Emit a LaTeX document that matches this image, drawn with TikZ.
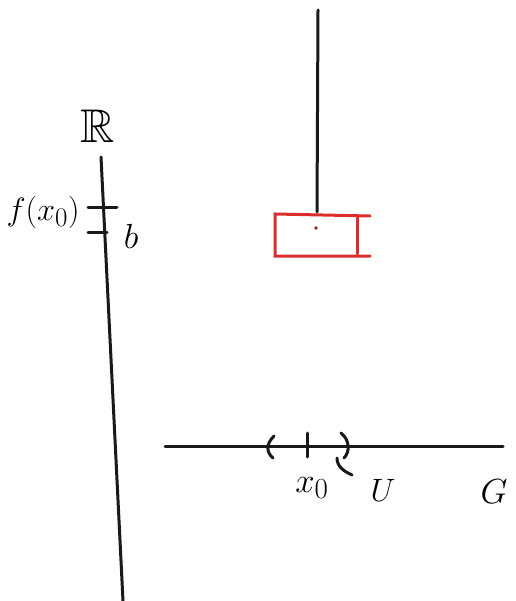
\documentclass[tikz,border=0pt]{standalone}
\usepackage{amssymb}
\newcommand{\bigtxt}[2]{\scalebox{#1}{\Huge$#2$}}
\begin{document}
\begin{tikzpicture}[x=1pt,y=-1pt,
  ink/.style={line width=3pt,line cap=round,black!90},
  redink/.style={line width=3pt,line cap=round,color={rgb,255:red,220;green,45;blue,45}},
  lbl/.style={inner sep=0pt}]
\useasboundingbox (0,0) rectangle (515,601);
% vertical axis R
\coordinate (rtop) at (101,157);
\coordinate (rbot) at (123,601);
\draw[ink] (rtop) -- (rbot);
\node[lbl] (rlab) at (98,126) {\bigtxt{1.9}{\mathbb{R}}};
% ticks on R
\coordinate (t1a) at (88,208); \coordinate (t1b) at (117,208);
\coordinate (t2a) at (88,233); \coordinate (t2b) at (107,233);
\draw[ink] (t1a) -- (t1b);
\draw[ink] (t2a) -- (t2b);
\node[lbl] (fx) at (43,212) {\bigtxt{1.3}{f(x_0)}};
\node[lbl] (b) at (131,236) {\bigtxt{1.4}{b}};
% vertical hanging line and red box
\coordinate (vtop) at (318,10);
\coordinate (vbot) at (317,212);
\draw[ink] (vtop) -- (vbot);
\coordinate (bx1) at (275,214);
\coordinate (bx2) at (275,256);
\coordinate (bx3) at (370,216);
\coordinate (bx4) at (370,256);
\draw[redink] (bx3) -- (bx1) -- (bx2) -- (bx4);
\coordinate (br1) at (357,217); \coordinate (br2) at (357,254);
\draw[redink] (br1) -- (br2);
\fill[color={rgb,255:red,150;green,30;blue,30}] (316,228) circle (1.8pt);
% horizontal line G
\coordinate (gl) at (165,446);
\coordinate (gr) at (503,446);
\draw[ink] (gl) -- (gr);
\draw[ink] (274,436) .. controls (266,444) and (266,452) .. (273,458);
\coordinate (x0a) at (307,433); \coordinate (x0b) at (307,457);
\draw[ink] (x0a) -- (x0b);
\draw[ink] (341,433) .. controls (350,440) and (350,452) .. (344,458);
\draw[ink] (337,458) .. controls (337,466) and (343,471) .. (352,475);
\node[lbl] (x0) at (312,488) {\bigtxt{1.4}{x_0}};
\node[lbl] (U) at (383,490) {\bigtxt{1.3}{U}};
\node[lbl] (G) at (494,492) {\bigtxt{1.4}{G}};
\end{tikzpicture}
\end{document}
